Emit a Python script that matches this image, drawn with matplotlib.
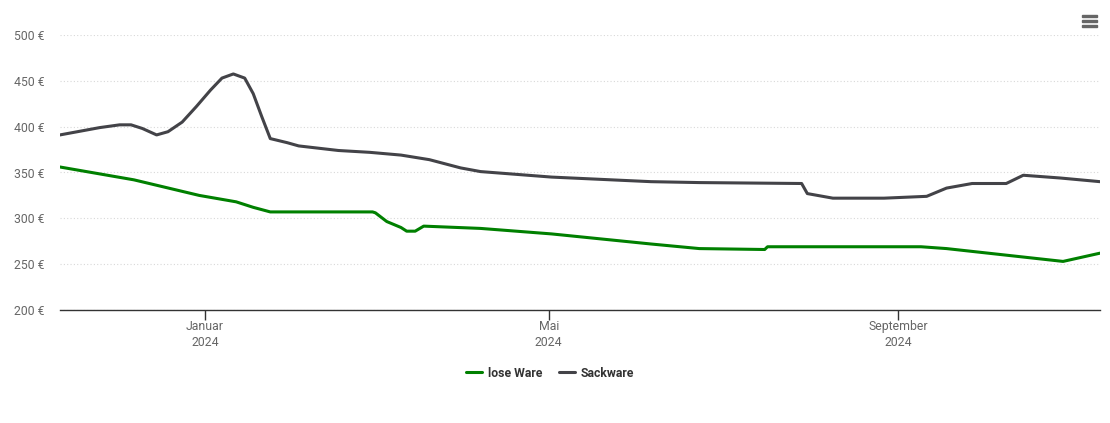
import numpy as np
import pandas as pd
import matplotlib
matplotlib.use("Agg")
import matplotlib.pyplot as plt
from matplotlib.patches import Rectangle

plt.rcParams['font.family'] = ['Roboto', 'DejaVu Sans']

# values (EUR)
sack_dates = ["2023-11-11", "2023-11-25", "2023-12-02", "2023-12-06", "2023-12-10",
              "2023-12-15", "2023-12-19", "2023-12-24", "2023-12-29", "2024-01-03",
              "2024-01-07", "2024-01-11", "2024-01-15", "2024-01-18", "2024-01-21",
              "2024-01-24", "2024-01-30", "2024-02-03", "2024-02-17", "2024-02-28",
              "2024-03-10", "2024-03-20", "2024-03-31", "2024-04-07", "2024-05-02",
              "2024-06-06", "2024-06-23", "2024-07-29", "2024-07-31", "2024-08-09",
              "2024-08-27", "2024-09-11", "2024-09-18", "2024-09-27", "2024-10-09",
              "2024-10-15", "2024-10-28", "2024-11-11"]
sack_vals = [391, 399, 402, 402, 398,
             391, 394.5, 405, 422, 440,
             453, 457.5, 453, 436, 411,
             387, 382.5, 379, 374, 372,
             369, 364, 355, 351, 345,
             340, 339, 338, 327, 322,
             322, 324, 333, 338, 338,
             347, 344, 340]

lose_dates = ["2023-11-11", "2023-12-07", "2023-12-30", "2024-01-12", "2024-01-18",
              "2024-01-24", "2024-02-03", "2024-02-29", "2024-03-01", "2024-03-05",
              "2024-03-10", "2024-03-12", "2024-03-15", "2024-03-18", "2024-04-07",
              "2024-05-02", "2024-06-06", "2024-06-23", "2024-07-16", "2024-07-17",
              "2024-09-09", "2024-09-18", "2024-10-29", "2024-11-11"]
lose_vals = [356, 342, 325, 318, 312,
             307, 307, 307, 306, 296.5,
             290, 286, 286, 291.5, 289,
             283, 272, 267, 266, 269,
             269, 267, 253, 262]

series = [("lose Ware", lose_dates, lose_vals, "#008000"),
          ("Sackware", sack_dates, sack_vals, "#434348")]

fig = plt.figure(figsize=(11.1, 4.23), dpi=100)
ax = fig.add_axes([60/1110, (423-310)/423, 1040/1110, 275/423])

for name, d, v, c in series:
    ax.plot(pd.to_datetime(d), v, color=c, lw=2.2, label=name,
            solid_joinstyle="round", solid_capstyle="round")

ax.set_xlim(pd.Timestamp("2023-11-11"), pd.Timestamp("2024-11-11"))
ax.set_ylim(200, 500)
ax.set_yticks(np.arange(200, 501, 50))
ax.set_yticklabels([f"{t} €" for t in range(200, 501, 50)])
ax.grid(axis="y", color="#d8d8d8", linestyle=(0, (1, 2)), lw=0.8)
ax.set_axisbelow(True)

ticks = pd.to_datetime(["2024-01-01", "2024-05-01", "2024-09-01"])
ax.set_xticks(ticks)
ax.set_xticklabels(["Januar\n2024", "Mai\n2024", "September\n2024"],
                   linespacing=1.3)

for s in ["top", "right", "left"]:
    ax.spines[s].set_visible(False)
ax.spines["bottom"].set_color("#333333")
ax.spines["bottom"].set_linewidth(1)
ax.tick_params(axis="y", length=0, labelsize=8.8, labelcolor="#666666", pad=11)
ax.tick_params(axis="x", length=7.5, width=1, color="#333333", labelsize=8.8,
               labelcolor="#666666", pad=-0.5)

leg = fig.legend(loc="center", bbox_to_anchor=(550/1110, 1 - 373/423), ncol=2,
                 frameon=False, handlelength=1.3, columnspacing=1.4,
                 handletextpad=0.45, prop={"size": 8.8, "weight": "bold"})
for t in leg.get_texts():
    t.set_color("#333333")

# menu icon
for yy in [16, 21, 26]:
    fig.add_artist(Rectangle((1082/1110, 1 - (yy + 1)/423), 15/1110, 2.2/423,
                             transform=fig.transFigure, color="#666666"))

fig.savefig("out.png", dpi=100)
